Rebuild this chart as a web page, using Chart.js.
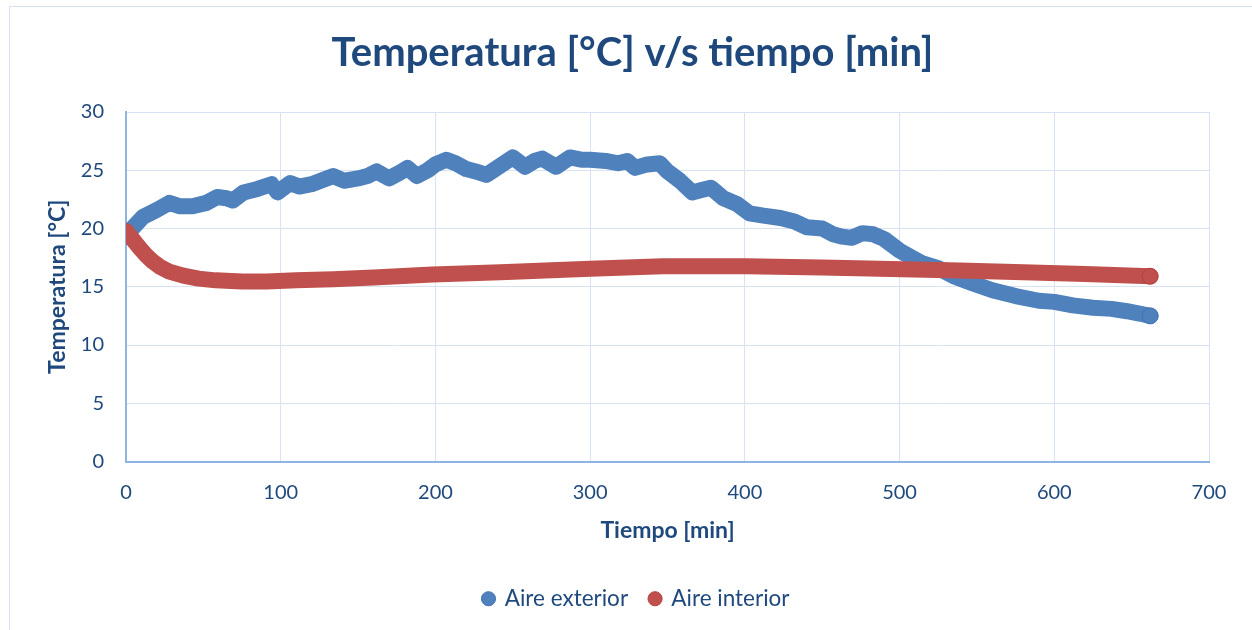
<!DOCTYPE html>
<html>
<head>
<meta charset="utf-8">
<script src="https://cdn.jsdelivr.net/npm/chart.js@4.4.1/dist/chart.umd.min.js"></script>
<style>
  html, body { margin: 0; padding: 0; background: #fff; }
  #wrap { position: relative; width: 1252px; height: 630px; overflow: hidden; }
  #frame { position: absolute; left: 9px; top: 6px; width: 1400px; height: 800px; border: 1px solid #d9e2f0; }
  canvas { position: absolute; left: 0; top: 0; }
</style>
</head>
<body>
<div id="wrap">
  <div id="frame"></div>
  <canvas id="tempChart" width="1252" height="630"></canvas>
</div>
<script>
// Aire exterior: tiempo [min] y temperatura [°C]
var exteriorTime = [0, 4, 11, 20, 28, 35, 43, 52, 59, 65, 69, 76, 85, 94, 98, 106, 112, 120, 128, 134,
  141, 150, 156, 162, 170, 177, 182, 188, 195, 200, 207, 213, 220, 226, 233, 242, 250, 258, 264, 269,
  278, 287, 295, 300, 310, 318, 324, 329, 337, 345, 350, 358, 366, 372, 378, 386, 395, 403, 412, 423,
  432, 440, 450, 457, 463, 469, 476, 483, 490, 500, 508, 515, 525, 535, 547, 560, 575, 590, 600, 612,
  625, 637, 647, 655, 662];
var exteriorTemp = [19.3, 20.0, 21.0, 21.6, 22.2, 21.9, 21.9, 22.2, 22.7, 22.6, 22.4, 23.1, 23.4, 23.8, 23.1, 23.9, 23.6, 23.8, 24.2, 24.5,
  24.1, 24.3, 24.5, 24.9, 24.3, 24.8, 25.2, 24.5, 25.0, 25.5, 25.9, 25.6, 25.1, 24.9, 24.6, 25.4, 26.1, 25.3, 25.8, 26.0,
  25.3, 26.1, 25.9, 25.9, 25.8, 25.6, 25.8, 25.2, 25.5, 25.6, 24.9, 24.1, 23.1, 23.3, 23.5, 22.6, 22.1, 21.3, 21.1, 20.9,
  20.6, 20.1, 20.0, 19.5, 19.3, 19.2, 19.6, 19.5, 19.1, 18.1, 17.5, 17.0, 16.6, 15.9, 15.3, 14.7, 14.2, 13.8, 13.7, 13.4,
  13.2, 13.1, 12.9, 12.7, 12.5];

// Aire interior
var interiorTime = [0, 3, 6, 9, 13, 17, 22, 28, 37, 47, 58, 75, 91, 110, 134, 160, 198, 242, 300, 347,
  401, 450, 487, 539, 580, 620, 662];
var interiorTemp = [19.8, 19.3, 18.8, 18.3, 17.7, 17.2, 16.7, 16.3, 15.95, 15.7, 15.55, 15.45, 15.45, 15.55, 15.65, 15.8, 16.05, 16.25, 16.55, 16.75,
  16.75, 16.65, 16.55, 16.4, 16.25, 16.1, 15.9];

var xTicks = [0, 100, 200, 300, 400, 500, 600, 700];
var yTicks = [0, 5, 10, 15, 20, 25, 30];

var textColor = '#1f497d';
var gridColor = '#d9e2f3';
var axisColor = '#8eb4e3';

function toPoints(xs, ys) {
  return xs.map(function (x, i) { return { x: x, y: ys[i] }; });
}

// solo se ve el marcador del ultimo punto, el resto queda dentro de la linea gruesa
function lastPointOnly(c) {
  return c.dataIndex === c.dataset.data.length - 1 ? 8 : 0;
}

// Excel centra titulo y leyenda en un area algo mas ancha que la imagen
var centerShift = {
  id: 'centerShift',
  afterLayout: function (chart) {
    chart.legend.left += 32;
    chart.legend.right += 32;
    chart.titleBlock.left += 28;
    chart.titleBlock.right += 28;
  }
};

var ctx = document.getElementById('tempChart').getContext('2d');
var chart = new Chart(ctx, {
  type: 'scatter',
  data: {
    datasets: [{
      label: 'Aire exterior',
      data: toPoints(exteriorTime, exteriorTemp),
      showLine: true,
      borderColor: '#4f81bd',
      backgroundColor: '#4f81bd',
      pointBorderColor: '#3f72b0',
      borderWidth: 16,
      borderCapStyle: 'round',
      borderJoinStyle: 'round',
      pointRadius: lastPointOnly,
      pointBorderWidth: 1,
      order: 1
    }, {
      label: 'Aire interior',
      data: toPoints(interiorTime, interiorTemp),
      showLine: true,
      borderColor: '#c0504d',
      backgroundColor: '#c0504d',
      pointBorderColor: '#b3403d',
      borderWidth: 16,
      borderCapStyle: 'round',
      borderJoinStyle: 'round',
      pointRadius: lastPointOnly,
      pointBorderWidth: 1,
      order: 0
    }]
  },
  options: {
    responsive: false,
    animation: false,
    layout: { padding: { left: 0, right: 43, top: 29, bottom: 10 } },
    plugins: {
      tooltip: { enabled: false },
      title: {
        display: true,
        text: 'Temperatura [°C] v/s tiempo [min]',
        color: textColor,
        font: { family: 'Lato', size: 40, weight: 'bold' },
        padding: { top: 0, bottom: 35 }
      },
      legend: {
        position: 'bottom',
        labels: {
          color: textColor,
          font: { family: 'Lato', size: 22.5 },
          usePointStyle: true,
          pointStyle: 'circle',
          boxWidth: 10,
          boxHeight: 10,
          padding: 22,
          sort: function (a, b) { return a.datasetIndex - b.datasetIndex; }
        }
      }
    },
    scales: {
      x: {
        type: 'linear',
        min: 0,
        max: 700,
        afterBuildTicks: function (scale) { scale.ticks = xTicks.map(function (v) { return { value: v }; }); },
        afterFit: function (scale) { scale.height = 104; },
        grid: { color: gridColor, drawTicks: false },
        border: { color: axisColor, width: 2 },
        ticks: { color: textColor, font: { family: 'Lato', size: 20 }, padding: 19 },
        title: {
          display: true,
          text: 'Tiempo [min]',
          color: textColor,
          font: { family: 'Lato', size: 23, weight: 'bold' },
          padding: { top: 4, bottom: 21 }
        }
      },
      y: {
        min: 0,
        max: 30,
        afterBuildTicks: function (scale) { scale.ticks = yTicks.map(function (v) { return { value: v }; }); },
        afterFit: function (scale) { scale.width = 126; },
        grid: { color: gridColor, drawTicks: false },
        border: { color: axisColor, width: 2 },
        ticks: { color: textColor, font: { family: 'Lato', size: 20 }, padding: 22 },
        title: {
          display: true,
          text: 'Temperatura [°C]',
          color: textColor,
          font: { family: 'Lato', size: 23, weight: 'bold' },
          padding: { top: 44, bottom: 0 }
        }
      }
    }
  },
  plugins: [centerShift]
});
</script>
</body>
</html>
